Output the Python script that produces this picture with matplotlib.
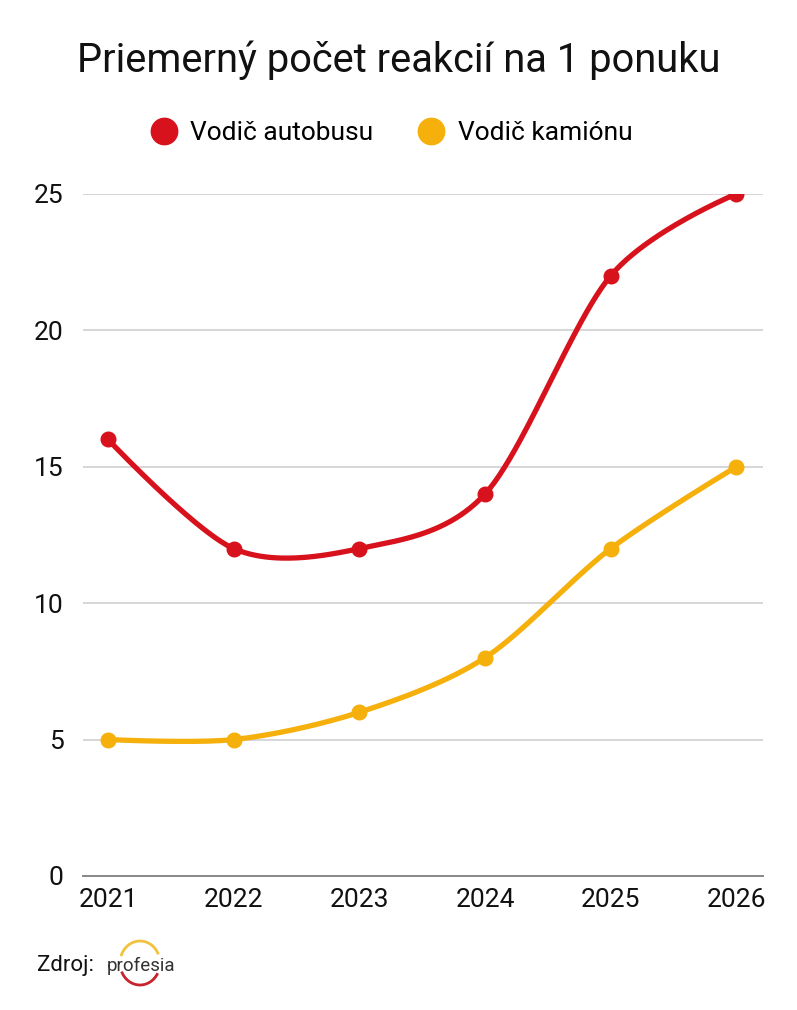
import numpy as np
import matplotlib.pyplot as plt
from matplotlib.patches import Arc
from matplotlib.lines import Line2D

plt.rcParams['font.family'] = ['Roboto', 'DejaVu Sans']

years = [2021, 2022, 2023, 2024, 2025, 2026]
bus = [16, 12, 12, 14, 22, 25]
truck = [5, 5, 6, 8, 12, 15]
labels = ['Vodič autobusu', 'Vodič kamiónu']
colors = ['#D8121D', '#F5B00B']
yticks = [0, 5, 10, 15, 20, 25]


def smooth_line(x, y, n=50):
    """Bezier curve through the points, Catmull-Rom tangents inside, flat ends"""
    x = np.asarray(x, float)
    y = np.asarray(y, float)
    m = len(x)
    tx = np.zeros(m)
    ty = np.zeros(m)
    tx[1:-1] = (x[2:] - x[:-2]) / 2
    ty[1:-1] = (y[2:] - y[:-2]) / 2
    t = np.linspace(0, 1, n)[:, None]
    out = []
    for i in range(m - 1):
        p0 = np.array([x[i], y[i]])
        p3 = np.array([x[i + 1], y[i + 1]])
        p1 = p0 + np.array([tx[i], ty[i]]) / 3.3
        p2 = p3 - np.array([tx[i + 1], ty[i + 1]]) / 3.3
        seg = ((1 - t) ** 3 * p0 + 3 * (1 - t) ** 2 * t * p1
               + 3 * (1 - t) * t ** 2 * p2 + t ** 3 * p3)
        out.append(seg)
    pts = np.vstack(out)
    return pts[:, 0], pts[:, 1]


fig = plt.figure(figsize=(7.97, 10.10), dpi=100)
ax = fig.add_axes([0.104, 0.1327, 0.853, 0.6753])

for series, color in zip([bus, truck], colors):
    sx, sy = smooth_line(years, series)
    ax.plot(sx, sy, color=color, lw=3.8, solid_capstyle='round', zorder=3)
    ax.plot(years, series, 'o', color=color, ms=10.5, zorder=4)

ax.set_xlim(2021 - 0.2, 2026 + 0.21)
ax.set_ylim(0, 25)
ax.set_yticks(yticks)
ax.set_xticks(years)
ax.grid(axis='y', color='#cccccc', lw=1.1)
ax.set_axisbelow(True)
for s in ['top', 'right', 'left']:
    ax.spines[s].set_visible(False)
ax.spines['bottom'].set_color('#888888')
ax.spines['bottom'].set_linewidth(1.4)
ax.tick_params(axis='both', length=0, labelsize=19, colors='#111111')
ax.tick_params(axis='y', pad=14)
ax.tick_params(axis='x', pad=9)

fig.text(0.5, 0.94, 'Priemerný počet reakcií na 1 ponuku', ha='center', va='center',
         fontsize=28.7, color='#111111')

handles = [Line2D([], [], ls='none', marker='o', ms=19, color=c) for c in colors]
fig.legend(handles, labels, loc='center', bbox_to_anchor=(0.491, 0.868), ncol=2,
           frameon=False, fontsize=19, handlelength=1.0, handletextpad=0.5,
           columnspacing=1.7)

# source line with profesia logo
fig.text(0.047, 0.044, 'Zdroj:', fontsize=16, va='center', color='#111111')
fig.text(0.134, 0.044, 'profesia', fontsize=13.5, va='center', color='#333333')
lax = fig.add_axes([100 / 797, 1 - 1000 / 1010, 80 / 797, 70 / 1010])
lax.set_xlim(100, 180)
lax.set_ylim(1000, 930)
lax.axis('off')
lax.add_patch(Arc((140, 963), 40, 44, theta1=200, theta2=335, color='#F2C13E', lw=2))
lax.add_patch(Arc((140, 963), 40, 44, theta1=30, theta2=155, color='#C8222C', lw=2))

fig.savefig('out.png', dpi=100)
